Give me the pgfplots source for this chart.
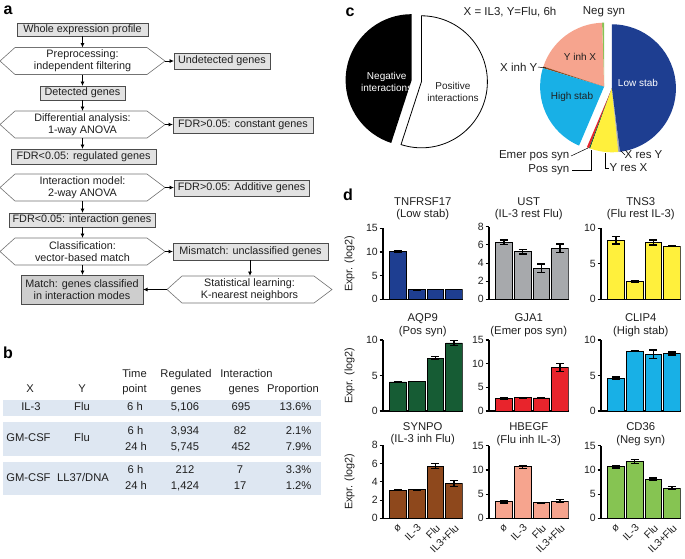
\documentclass[border=0pt]{standalone}
\usepackage{fontspec}
\setmainfont{Liberation Sans}
\usepackage{pgfplots}
\pgfplotsset{compat=1.18}
\usetikzlibrary{arrows.meta}

\definecolor{txt}{gray}{0.12}
\definecolor{boxfill}{RGB}{226,226,226}
\definecolor{boxfillB}{RGB}{206,206,206}
\definecolor{boxline}{gray}{0.3}
\definecolor{hexline}{gray}{0.45}
\definecolor{band}{RGB}{222,231,242}
\definecolor{cLow}{RGB}{30,62,145}
\definecolor{cXresY}{RGB}{167,169,172}
\definecolor{cYresX}{RGB}{255,240,60}
\definecolor{cPos}{RGB}{22,92,52}
\definecolor{cEmer}{RGB}{232,36,44}
\definecolor{cHigh}{RGB}{24,176,230}
\definecolor{cXinhY}{RGB}{142,72,28}
\definecolor{cYinhX}{RGB}{246,164,142}
\definecolor{cNeg}{RGB}{134,196,82}

\tikzset{
  fl/.style={draw=boxline, line width=0.9pt, fill=boxfill, inner sep=0pt, align=center,
    text=txt, font=\fontsize{10.8}{12}\selectfont},
  arr/.style={-{Latex[length=4.5pt,width=4pt]}, line width=0.8pt, black},
  tb/.style={font=\fontsize{11.2}{13}\selectfont, text=txt, inner sep=0pt, text height=8.1pt, text depth=2.4pt},
  pl/.style={font=\fontsize{11.5}{13}\selectfont, text=txt, inner sep=0.5pt},
  pin/.style={font=\fontsize{10}{11.5}\selectfont, inner sep=0pt, align=center},
  lead/.style={line width=0.5pt, black},
  panel/.style={font=\fontsize{16}{16}\selectfont\bfseries, inner sep=0pt},
}
\newcommand\flbox[6][boxfill]{\node[fl, fill=#1, minimum width=#4pt, minimum height=#5pt] at (#2,#3) {#6};}
\newcommand\flhex[3]{%
  \draw[hexline, line width=0.6pt, fill=white] (#1-82.5,#2) -- (#1-67.5,#2-13.5) -- (#1+64.5,#2-13.5)
    -- (#1+82.5,#2) -- (#1+64.5,#2+13.5) -- (#1-67.5,#2+13.5) -- cycle;
  \node[align=center, text=txt, font=\fontsize{10.8}{12}\selectfont, inner sep=0pt] at (#1,#2) {#3};}
% pie slices, counterclockwise from the global angle \pieang
\newcommand\pieslices[5]{%
  \foreach \v/\c in {#4}{%
    \pgfmathsetmacro\pieend{\pieang+3.6*\v}%
    \fill[fill=\c,#5] (#1,#2) -- ++(\pieang:#3pt) arc[start angle=\pieang, end angle=\pieend, radius=#3pt] -- cycle;
    \xdef\pieang{\pieend}%
  }}

\pgfplotsset{
  barax/.style={
    scale only axis, width=79.5pt, anchor=south west,
    xmin=-0.8, xmax=3.45, ymin=0,
    axis x line*=bottom, axis y line*=left,
    axis line style={line width=1.1pt, black, -},
    xtick={0,1,2,3}, xticklabels={},
    x tick style={draw=none},
    y tick style={line width=1.1pt, black},
    tick align=outside, major tick length=3.5pt,
    tick label style={font=\fontsize{10.5}{12}\selectfont, text=txt},
    yticklabel style={inner sep=1.5pt},
    /pgf/number format/assume math mode=true,
    every axis title/.style={at={(0.5,1)}, anchor=south, inner sep=0pt, align=center,
      font=\fontsize{11.3}{12.5}\selectfont, text=txt},
    ylabel style={at={(axis description cs:-0.42,0.5)}, anchor=center,
      font=\fontsize{10.8}{12}\selectfont, text=txt},
    ybar, bar width=16.6pt,
  },
  bottomrow/.style={xticklabels={ø,IL-3,Flu,IL3+Flu},
    xticklabel style={rotate=45, anchor=north east, inner sep=1pt}},
  barplot/.style={fill=#1, draw=black, line width=0.7pt,
    error bars/.cd, y dir=both, y explicit,
    error bar style={line width=1.2pt, black},
    error mark options={rotate=90, mark size=4pt, line width=1.2pt, black}},
}

\begin{document}
\begin{tikzpicture}
\useasboundingbox (0pt,0pt) rectangle (685pt,-558pt);

% ---------- c: pies ----------
\begin{axis}[at={(0pt,-558pt)}, anchor=south west, x=1pt, y=1pt,
  xmin=0, xmax=685, ymin=-558, ymax=0, hide axis, clip=false]
\pgfplotsextra{%
  \gdef\pieang{90}%
  \pieslices{411.6}{-80.2}{66}{45/black}{}%
  \pieslices{421.4}{-81.8}{66}{55/white}{draw=black, line width=0.8pt}%
  \gdef\pieang{90}%
  \pieslices{604.1}{-86.7}{64}{0.5/cNeg, 19.4/cYinhX, 0.4/cXinhY, 23.3/cHigh}{}%
  \pieslices{611.9}{-88.3}{64}{0.6/cEmer, 0.3/cPos, 7.1/cYresX, 0.4/cXresY, 48.0/cLow}{}%
}
\end{axis}

\begin{scope}[x=1pt,y=-1pt]
% panel letters
\node[panel] at (8,10) {a};
\node[panel] at (8,353) {b};
\node[panel] at (350,12) {c};
\node[panel] at (348,195) {d};

% ---------- a: flowchart ----------
\flbox{82.5}{29.5}{131}{13}{Whole expression profile}
\flhex{82.5}{61}{Preprocessing:\\independent filtering}
\flbox{222}{61}{96}{16}{Undetected genes}
\flbox{82.5}{93}{85}{14}{Detected genes}
\flhex{82.5}{124.5}{Differential analysis:\\1-way ANOVA}
\flbox{243}{125}{140}{16}{FDR>0.05: constant genes}
\flbox{83.5}{156.5}{145}{15}{FDR<0.05: regulated genes}
\flhex{82.5}{187.5}{Interaction model:\\2-way ANOVA}
\flbox{241.5}{188}{135}{16}{FDR>0.05: Additive genes}
\flbox{82}{220}{146}{14}{FDR<0.05: interaction genes}
\flhex{82.5}{251.5}{Classification:\\vector-based match}
\flbox{250.5}{251.5}{155}{17}{Mismatch: unclassified genes}
\flbox[boxfillB]{82}{289.5}{122}{29}{Match: genes classified\\in interaction modes}
\flhex{249.5}{289.5}{Statistical learning:\\K-nearest neighbors}
\draw[arr] (82.5,36) -- (82.5,47.5);
\draw[arr] (82.5,74.5) -- (82.5,86);
\draw[arr] (82.5,100) -- (82.5,111);
\draw[arr] (82.5,138) -- (82.5,149);
\draw[arr] (82.5,201) -- (82.5,213);
\draw[arr] (82.5,227) -- (82.5,238);
\draw[arr] (82.5,265) -- (82.5,275);
\draw[arr] (165,61) -- (174,61);
\draw[arr] (165,124.5) -- (173,124.5);
\draw[arr] (165,187.5) -- (174,187.5);
\draw[arr] (165,251.5) -- (173,251.5);
\draw[arr] (250,260) -- (250,276);
\draw[arr] (167,289.5) -- (143,289.5);

% ---------- b: table ----------
\fill[band] (3,400) rectangle (321,416);
\fill[band] (3,422) rectangle (321,456);
\fill[band] (3,462) rectangle (321,495);
\node[tb] at (30,390) {X};
\node[tb] at (82,390) {Y};
\node[tb] at (134.5,375) {Time};
\node[tb] at (134.5,390) {point};
\node[tb] at (186,375) {Regulated};
\node[tb] at (186,390) {genes};
\node[tb] at (246.5,375) {Interaction};
\node[tb] at (244,390) {genes};
\node[tb] at (293,390) {Proportion};
\node[tb] at (31,408) {IL-3};
\node[tb] at (82,408) {Flu};
\node[tb] at (135,408) {6 h};
\node[tb] at (185,408) {5,106};
\node[tb] at (241,408) {695};
\node[tb, anchor=east] at (311.5,408) {13.6\%};
\node[tb] at (28.5,439) {GM-CSF};
\node[tb] at (82,439) {Flu};
\node[tb] at (135.5,432) {6 h};
\node[tb] at (185,432) {3,934};
\node[tb] at (240,432) {82};
\node[tb, anchor=east] at (311.5,432) {2.1\%};
\node[tb] at (136,448) {24 h};
\node[tb] at (185,448) {5,745};
\node[tb] at (241,448) {452};
\node[tb, anchor=east] at (311.5,448) {7.9\%};
\node[tb] at (28.5,479) {GM-CSF};
\node[tb] at (83,479) {LL37/DNA};
\node[tb] at (135.5,471) {6 h};
\node[tb] at (185,471) {212};
\node[tb] at (240,471) {7};
\node[tb, anchor=east] at (311.5,471) {3.3\%};
\node[tb] at (136,487) {24 h};
\node[tb] at (185,487) {1,424};
\node[tb] at (240,487) {17};
\node[tb, anchor=east] at (311.5,487) {1.2\%};

% ---------- c: pie labels ----------
\node[pin, text=white] at (386.7,81.7) {Negative\\interactions};
\node[pin, text=txt] at (453,91.7) {Positive\\interactions};
\node[pl] at (510,12) {X = IL3, Y=Flu, 6h};
\node[pl] at (604,12) {Neg syn};
\node[pin, text=txt] at (580,57) {Y inh X};
\node[pin, text=txt] at (572,97) {High stab};
\node[pin, text=white] at (638,83) {Low stab};
\node[pl, anchor=east] at (538,67) {X inh Y};
\draw[lead] (538,67) -- (546,68);
\node[pl, anchor=east] at (570,156) {Emer pos syn};
\draw[lead] (571,156) -- (588,148);
\node[pl, anchor=east] at (570,170) {Pos syn};
\draw[lead] (572,170) -- (591,170) -- (591,150);
\draw[lead] (605,153) -- (605,168) -- (609,168);
\node[pl, anchor=west] at (609,168) {Y res X};
\draw[lead] (621,151) -- (625,155);
\node[pl, anchor=west] at (624,155) {X res Y};
\end{scope}

% ---------- d: bar charts ----------
% row 1
\begin{axis}[barax, at={(383pt,-299.3pt)}, height=71pt, ymax=15, ytick={0,5,10,15},
  title={TNFRSF17\\(Low stab)}, title style={yshift=8pt}, ylabel={Expr. (log2)}]
\addplot[barplot=cLow] table[x=x, y=y, y error=e, row sep=\\] {x y e\\ 0 10.1 0.1\\ 1 2.0 0.08\\ 2 2.0 0\\ 3 2.0 0\\};
\end{axis}
\begin{axis}[barax, at={(489pt,-299.3pt)}, height=72.5pt, ymax=8, ytick={0,2,4,6,8},
  title={UST\\(IL-3 rest Flu)}, title style={yshift=6.5pt}]
\addplot[barplot=cXresY] table[x=x, y=y, y error=e, row sep=\\] {x y e\\ 0 6.3 0.25\\ 1 5.25 0.25\\ 2 3.45 0.45\\ 3 5.65 0.45\\};
\end{axis}
\begin{axis}[barax, at={(601pt,-299.3pt)}, height=71pt, ymax=10, ytick={0,5,10},
  title={TNS3\\(Flu rest IL-3)}, title style={yshift=8pt}]
\addplot[barplot=cYresX] table[x=x, y=y, y error=e, row sep=\\] {x y e\\ 0 8.3 0.5\\ 1 2.55 0.12\\ 2 8.0 0.35\\ 3 7.5 0.08\\};
\end{axis}
% row 2
\begin{axis}[barax, at={(383pt,-411pt)}, height=71pt, ymax=10, ytick={0,5,10},
  title={AQP9\\(Pos syn)}, title style={yshift=3pt}, ylabel={Expr. (log2)}]
\addplot[barplot=cPos] table[x=x, y=y, y error=e, row sep=\\] {x y e\\ 0 4.1 0.05\\ 1 4.15 0\\ 2 7.45 0.25\\ 3 9.6 0.4\\};
\end{axis}
\begin{axis}[barax, at={(489pt,-411pt)}, height=71pt, ymax=15, ytick={0,5,10,15},
  title={GJA1\\(Emer pos syn)}, title style={yshift=3pt}]
\addplot[barplot=cEmer] table[x=x, y=y, y error=e, row sep=\\] {x y e\\ 0 2.65 0.1\\ 1 2.8 0.12\\ 2 2.75 0.08\\ 3 9.2 0.8\\};
\end{axis}
\begin{axis}[barax, at={(601pt,-411pt)}, height=71pt, ymax=10, ytick={0,5,10},
  title={CLIP4\\(High stab)}, title style={yshift=3pt}]
\addplot[barplot=cHigh] table[x=x, y=y, y error=e, row sep=\\] {x y e\\ 0 4.6 0.2\\ 1 8.45 0.08\\ 2 8.0 0.6\\ 3 8.1 0.2\\};
\end{axis}
% row 3
\begin{axis}[barax, bottomrow, at={(383pt,-518.3pt)}, height=73pt, ymax=8, ytick={0,2,4,6,8},
  title={SYNPO\\(IL-3 inh Flu)}, title style={yshift=0pt}, ylabel={Expr. (log2)}]
\addplot[barplot=cXinhY] table[x=x, y=y, y error=e, row sep=\\] {x y e\\ 0 3.08 0.04\\ 1 3.15 0.05\\ 2 5.72 0.28\\ 3 3.8 0.35\\};
\end{axis}
\begin{axis}[barax, bottomrow, at={(489pt,-518.3pt)}, height=72.5pt, ymax=15, ytick={0,5,10,15},
  title={HBEGF\\(Flu inh IL-3)}, title style={yshift=0pt}]
\addplot[barplot=cYinhX] table[x=x, y=y, y error=e, row sep=\\] {x y e\\ 0 3.45 0.3\\ 1 10.65 0.35\\ 2 3.2 0.05\\ 3 3.55 0.3\\};
\end{axis}
\begin{axis}[barax, bottomrow, at={(601pt,-518.3pt)}, height=72.5pt, ymax=15, ytick={0,5,10,15},
  title={CD36\\(Neg syn)}, title style={yshift=0pt}]
\addplot[barplot=cNeg] table[x=x, y=y, y error=e, row sep=\\] {x y e\\ 0 10.7 0.3\\ 1 11.8 0.45\\ 2 8.1 0.25\\ 3 6.2 0.3\\};
\end{axis}
\end{tikzpicture}
\end{document}
